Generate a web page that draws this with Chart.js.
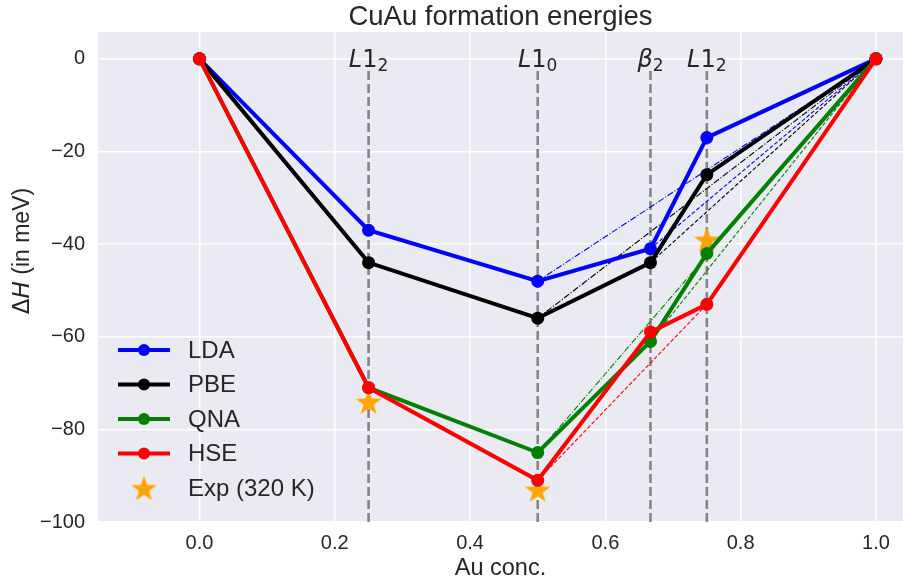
<!DOCTYPE html>
<html>
<head>
<meta charset="utf-8">
<script src="https://cdn.jsdelivr.net/npm/chart.js@4"></script>
<style>
html,body{margin:0;padding:0;background:#fff;}
#wrap{width:903px;height:582px;position:relative;}
</style>
</head>
<body>
<div id="wrap"><canvas id="c" width="903" height="582"></canvas></div>
<script>
// ---- data ----
const concentrations = [0, 0.25, 0.5, 0.6667, 0.75, 1.0];
const ldaValues = [0, -37, -48, -41, -17, 0];
const pbeValues = [0, -44, -56, -44, -25, 0];
const qnaValues = [0, -71, -85, -61, -42, 0];
const hseValues = [0, -71, -91, -59, -53, 0];
const expConc = [0.25, 0.5, 0.75];
const expValues = [-74, -93, -39];
const phaseConc = [0.25, 0.5, 0.6667, 0.75];
const phaseNames = [["L1","2"], ["L1","0"], ["β","2"], ["L1","2"]];
const xTicks = [0.0, 0.2, 0.4, 0.6, 0.8, 1.0];
const yTicks = [0, -20, -40, -60, -80, -100];
// tie lines: [from conc, to conc, style]
const ldaTie = [[0.5, 1.0, 'dashdot'], [0.6667, 1.0, 'dash']];
const pbeTie = [[0.5, 1.0, 'dashdot'], [0.6667, 1.0, 'dash']];
const qnaTie = [[0.5, 1.0, 'dashdot'], [0.6667, 1.0, 'dash']];
const hseTie = [[0.5, 0.75, 'dash']];

const FONT = "'Liberation Sans', Arial, sans-serif";
const MATHFONT = "'DejaVu Sans', sans-serif";

function pts(xs, ys){ return xs.map((x,i)=>({x:x, y:ys[i]})); }
function valAt(xs, ys, x){ const i = xs.indexOf(x); return ys[i]; }

// star image
function makeStar(size, color){
  const c = document.createElement('canvas');
  c.width = size; c.height = size;
  const g = c.getContext('2d');
  const cx = size/2, cy = size/2 + size*0.05, R = size/2, r = R*0.40;
  g.beginPath();
  for (let k=0;k<10;k++){
    const a = -Math.PI/2 + k*Math.PI/5;
    const rr = (k%2===0)?R:r;
    const px = cx + rr*Math.cos(a), py = cy + rr*Math.sin(a);
    if(k===0) g.moveTo(px,py); else g.lineTo(px,py);
  }
  g.closePath(); g.fillStyle = color; g.fill();
  return c;
}
const starImg = makeStar(27, '#FFA500');

const series = [
  {label:'LDA', color:'#0000FF', vals:ldaValues, tie:ldaTie},
  {label:'PBE', color:'#000000', vals:pbeValues, tie:pbeTie},
  {label:'QNA', color:'#008000', vals:qnaValues, tie:qnaTie},
  {label:'HSE', color:'#FF0000', vals:hseValues, tie:hseTie},
];

const datasets = [];
// vertical phase lines
phaseConc.forEach(x=>{
  datasets.push({type:'line', data:[{x:x,y:-100},{x:x,y:-2}], borderColor:'#858585', borderWidth:2.6,
    borderDash:[9,4], pointRadius:0, order:100, fill:false});
});
// exp stars
datasets.push({type:'line', label:'Exp (320 K)', data:pts(expConc, expValues), showLine:false,
  pointStyle:starImg, pointRadius:13, order:90});
// tie lines
series.forEach(s=>{
  s.tie.forEach(t=>{
    datasets.push({type:'line', data:[{x:t[0], y:valAt(concentrations,s.vals,t[0])},{x:t[1], y:valAt(concentrations,s.vals,t[1])}],
      borderColor:s.color, borderWidth:1.1, borderDash: t[2]==='dash' ? [4,2] : [6.4,1.8,1.1,1.8],
      pointRadius:0, order:80, fill:false});
  });
});
// main series
series.forEach((s,i)=>{
  datasets.push({type:'line', label:s.label, data:pts(concentrations, s.vals), borderColor:s.color,
    backgroundColor:s.color, borderWidth:4, pointRadius:6.5, pointBorderWidth:0, pointBackgroundColor:s.color,
    order:10-i, fill:false, tension:0});
});

const bgPlugin = {
  id:'bg',
  beforeDraw(chart){
    const {ctx, chartArea:a} = chart;
    ctx.save();
    ctx.fillStyle = '#FFFFFF'; ctx.fillRect(0,0,chart.width,chart.height);
    ctx.fillStyle = '#EAEAF2'; ctx.fillRect(a.left, a.top, a.right-a.left, a.bottom-a.top);
    ctx.restore();
  },
  afterDatasetsDraw(chart){
    const {ctx, chartArea:a, scales:{x,y}} = chart;
    ctx.save();
    // phase labels
    phaseConc.forEach((c,i)=>{
      const px = x.getPixelForValue(c);
      const base = y.getPixelForValue(0) + 8;
      const main = phaseNames[i][0], sub = phaseNames[i][1];
      const mfont = '24px ' + MATHFONT, sfont = '17px ' + MATHFONT;
      let w = 0;
      let parts = [];
      if (main === 'L1'){
        parts.push({t:'L', f:'italic '+mfont, dy:0});
        parts.push({t:'1', f:mfont, dy:0});
      } else {
        parts.push({t:main, f:'italic '+mfont, dy:0});
      }
      parts.push({t:sub, f:sfont, dy:4});
      parts.forEach(p=>{ctx.font=p.f; p.w=ctx.measureText(p.t).width; w+=p.w;});
      let cx = px - w/2;
      ctx.fillStyle = '#262626'; ctx.textBaseline = 'alphabetic'; ctx.textAlign='left';
      parts.forEach(p=>{ctx.font=p.f; ctx.fillText(p.t, cx, base+p.dy); cx+=p.w;});
    });
    // legend
    const lx = 118, ly0 = 350, dy = 34.5;
    ctx.font = '24px ' + FONT; ctx.textBaseline='middle'; ctx.textAlign='left';
    series.forEach((s,i)=>{
      const yy = ly0 + i*dy;
      ctx.strokeStyle = s.color; ctx.lineWidth = 4; ctx.setLineDash([]);
      ctx.beginPath(); ctx.moveTo(lx, yy); ctx.lineTo(lx+52, yy); ctx.stroke();
      ctx.fillStyle = s.color; ctx.beginPath(); ctx.arc(lx+26, yy, 6, 0, Math.PI*2); ctx.fill();
      ctx.fillStyle = '#262626'; ctx.fillText(s.label, 188, yy+1);
    });
    const ys = ly0 + 4*dy;
    ctx.drawImage(starImg, lx+26-13.5, ys-13.5, 27, 27);
    ctx.fillStyle = '#262626'; ctx.fillText('Exp (320 K)', 188, ys+1);
    ctx.restore();
  },
  afterDraw(chart){
    const {ctx, chartArea:a} = chart;
    ctx.save();
    ctx.fillStyle = '#262626';
    ctx.font = '27.5px ' + FONT; ctx.textAlign='center'; ctx.textBaseline='middle';
    ctx.fillText('CuAu formation energies', (a.left+a.right)/2, 17);
    ctx.font = '23.5px ' + FONT;
    ctx.fillText('Au conc.', (a.left+a.right)/2, 569);
    ctx.translate(23, 251); ctx.rotate(-Math.PI/2);
    const p1 = 'Δ', p2 = 'H', p3 = ' (in meV)';
    const f1 = '23px ' + MATHFONT, f2 = 'italic 23px ' + MATHFONT, f3 = '23px ' + FONT;
    ctx.font=f1; const w1=ctx.measureText(p1).width;
    ctx.font=f2; const w2=ctx.measureText(p2).width;
    ctx.font=f3; const w3=ctx.measureText(p3).width;
    let sx = -(w1+w2+w3)/2;
    ctx.textAlign='left';
    ctx.font=f1; ctx.fillText(p1, sx, 0); sx+=w1;
    ctx.font=f2; ctx.fillText(p2, sx, 0); sx+=w2;
    ctx.font=f3; ctx.fillText(p3, sx, 0);
    ctx.restore();
  }
};

new Chart(document.getElementById('c'), {
  type:'line',
  data:{datasets:datasets},
  options:{
    responsive:false, animation:false,
    layout:{autoPadding:false, padding:{top:32, left:0, right:0, bottom:0}},
    plugins:{legend:{display:false}, title:{display:false}, tooltip:{enabled:false}},
    scales:{
      x:{type:'linear', min:-0.15, max:1.04,
        afterBuildTicks(s){ s.ticks = xTicks.map(v=>({value:v})); },
        afterFit(s){ s.height = 60; s.paddingLeft = 0; s.paddingRight = 0; },
        grid:{color:'#FFFFFF', lineWidth:1.5, drawTicks:false},
        border:{display:false},
        ticks:{padding:9, color:'#262626', font:{family:FONT, size:20}, callback:v=>v.toFixed(1)}
      },
      y:{type:'linear', min:-100, max:5.8,
        afterBuildTicks(s){ s.ticks = yTicks.map(v=>({value:v})); },
        afterFit(s){ s.width = 98; s.paddingTop = 0; s.paddingBottom = 0; },
        grid:{color:'#FFFFFF', lineWidth:1.5, drawTicks:false},
        border:{display:false},
        ticks:{padding:13, color:'#262626', font:{family:FONT, size:20}, callback:v=>String(v).replace('-','\u2212')}
      }
    }
  },
  plugins:[bgPlugin]
});
</script>
</body>
</html>
